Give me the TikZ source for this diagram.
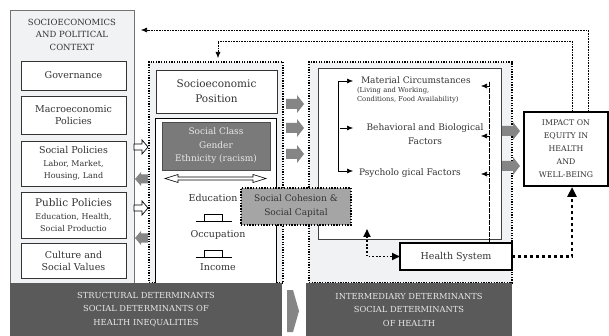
\documentclass[tikz,border=0pt]{standalone}
\usepackage{fontspec}
\setmainfont{DejaVu Serif}
\usetikzlibrary{arrows.meta,calc}
\definecolor{bgl}{HTML}{F1F2F4}
\definecolor{bandc}{HTML}{5A5A5A}
\definecolor{midgray}{HTML}{7A7A7A}
\definecolor{cohgray}{HTML}{A5A5A5}
\definecolor{arrgray}{HTML}{858585}
\definecolor{txt}{HTML}{333333}
\definecolor{lighttxt}{HTML}{E8E8E8}
\newcommand{\fs}[2]{\fontsize{#1}{#2}\selectfont}
\begin{document}
\begin{tikzpicture}[x=1pt,y=-1pt,
  every node/.style={inner sep=0pt, outer sep=0pt, text=txt, align=center, font=\fs{9.5}{12}},
  wbox/.style={draw=black!80, line width=0.6pt, fill=white},
  ctxbox/.style={draw=black!55, line width=0.7pt, fill=bgl},
  dotbox/.style={draw=black, line width=1.3pt, dash pattern=on 1.3pt off 1.3pt, fill=bgl},
  bandbox/.style={fill=bandc, text=lighttxt, font=\fs{8.3}{13.5}},
  thinfeed/.style={draw=black, line width=0.6pt, dash pattern=on 0.8pt off 0.8pt, -{Latex[length=6pt,width=5pt]}},
  smallarr/.style={-{Latex[length=6pt,width=5pt]}, line width=0.6pt},
  blockarrow/.pic={\fill[arrgray] (0,-5) -- (11,-5) -- (11,-9) -- (18,0) -- (11,9) -- (11,5) -- (0,5) -- cycle;},
  smallblock/.pic={\fill[arrgray] (0,-4.5) -- (7,-4.5) -- (7,-7) -- (13,0) -- (7,7) -- (7,4.5) -- (0,4.5) -- cycle;},
  hollowarrow/.pic={\draw[fill=white, line width=0.7pt, line join=miter] (0,-3) -- (8,-3) -- (8,-7) -- (14,0) -- (8,7) -- (8,3) -- (0,3) -- cycle;},
  stepmark/.pic={\draw[line width=0.6pt] (-18,0) -- (18,0); \draw[line width=0.6pt] (-9,0) -- (-9,-7) -- (9,-7) -- (9,0);}
]
\useasboundingbox[fill=white] (0,0) rectangle (609,336);

% ---------- left context column ----------
\node[ctxbox, minimum width=124, minimum height=273] (ctx) at (72,146.5) {};
\node[font=\fs{8.5}{12.5}] (ctxtitle) at (72,34.5) {SOCIOECONOMICS\\AND POLITICAL\\CONTEXT};
\node[wbox, minimum width=105, minimum height=29] (gov) at (73.5,75.5) {Governance};
\node[wbox, minimum width=105, minimum height=38] (macro) at (73.5,115) {Macroeconomic\\Policies};
\node[wbox, minimum width=105, minimum height=45] (socpol) at (73.5,163.5) {Social Policies\\[1pt]\fs{8}{11}Labor, Market,\\\fs{8}{11}Housing, Land};
\node[wbox, minimum width=105, minimum height=46] (pubpol) at (73.5,215) {\fs{10.5}{12}Public Policies\\[1pt]\fs{8}{11}Education, Health,\\\fs{8}{11}Social Productio};
\node[wbox, minimum width=105, minimum height=35] (culture) at (73.5,260.5) {Culture and\\Social Values};

% ---------- structural box ----------
\node[dotbox, minimum width=134, minimum height=221] (struct) at (216,172.5) {};
\node[wbox, minimum width=121, minimum height=43, font=\fs{10.5}{15}] (sep) at (216.5,91.5) {Socioeconomic\\Position};
\node[wbox, draw=black, minimum width=121, minimum height=165] (sepin) at (215.5,200.5) {};
\node[fill=midgray, draw=black!70, line width=0.6pt, minimum width=108, minimum height=48, text=lighttxt, font=\fs{9}{13.5}] (class) at (216,146) {Social Class\\Gender\\Ethnicity (racism)};
\draw[fill=white, line width=0.6pt] (165,178.5) -- (178,174.5) -- (178,177) -- (253,177) -- (253,174.5) -- (266,178.5) -- (253,182.5) -- (253,180) -- (178,180) -- (178,182.5) -- cycle;
\node (edu) at (213,198) {Education};
\pic at (213.5,221.5) {stepmark};
\node (occ) at (218,235) {Occupation};
\pic at (213.5,257.5) {stepmark};
\node (inc) at (218,267) {Income};

% ---------- intermediary box ----------
\node[dotbox, minimum width=203, minimum height=221] (inter) at (410.5,172.5) {};
\node[wbox, draw=black!75, minimum width=183, minimum height=171] (interin) at (409.5,153.5) {};
\node[anchor=west, font=\fs{9}{11}] (mat) at (361,80) {Material Circumstances};
\node[anchor=north west, align=left, font=\fs{6.8}{9}] (matsub) at (357,87.5) {(Living and Working,\\\fs{6.8}{9}Conditions, Food Availability)};
\node[font=\fs{9}{14}] (beh) at (425,134) {Behavioral and Biological\\Factors};
\node[anchor=west, font=\fs{9}{11}] (psy) at (359,173) {Psycholo gical Factors};
\draw[line width=0.6pt] (338,81) -- (338,171);
\draw[smallarr] (338,81) -- (353,81);
\draw[smallarr] (340,128) -- (353,128);
\draw[smallarr] (338,171) -- (353,171);

\node[wbox, draw=black, line width=1.3pt, minimum width=112, minimum height=27] (hs) at (456,256.5) {Health System};
\coordinate (hstop) at (489,243);
\draw[line width=0.5pt, dash pattern=on 0.6pt off 0.6pt] (hstop) -- (489,81);
\draw[smallarr] (489,86) -- (481,86);
\draw[smallarr] (489,136) -- (481,136);
\draw[smallarr] (489,174) -- (481,174);

% ---------- bands ----------
\node[bandbox, minimum width=272, minimum height=53] (sband) at (146,309.5) {STRUCTURAL DETERMINANTS\\SOCIAL DETERMINANTS OF\\HEALTH INEQUALITIES};
\node[bandbox, minimum width=206, minimum height=53] (iband) at (409,309.5) {INTERMEDIARY DETERMINANTS\\SOCIAL DETERMINANTS\\OF HEALTH};
\fill[arrgray] (287,290) -- (293,290) -- (299,311) -- (293,332) -- (287,332) -- cycle;

% ---------- social cohesion ----------
\node[fill=cohgray, draw=black, line width=1.4pt, dash pattern=on 1.4pt off 1.4pt, minimum width=110, minimum height=37, font=\fs{9}{14}] (coh) at (296,206.5) {Social Cohesion \&\\Social Capital};

% ---------- impact ----------
\node[wbox, draw=black, line width=1.4pt, minimum width=84, minimum height=74, font=\fs{7.8}{13}] (impact) at (566,149) {IMPACT ON\\EQUITY IN\\HEALTH\\AND\\WELL-BEING};

% ---------- block arrows ----------
\pic at (286,104) {blockarrow};
\pic at (286,128) {blockarrow};
\pic at (286,154) {blockarrow};
\pic at (502,131) {blockarrow};
\pic at (502,166) {blockarrow};
\pic at (134,147) {hollowarrow};
\pic at (134,208) {hollowarrow};
\pic[xscale=-1] at (148,179) {smallblock};
\pic[xscale=-1] at (148,238) {smallblock};

% ---------- feedback connectors ----------
\coordinate (fbA) at (588,112);
\coordinate (fbB) at (572,112);
\coordinate (ctxin) at (141,30);
\coordinate (structin) at (218,58);
\draw[thinfeed] (fbA) |- (ctxin);
\draw[thinfeed] (fbB) -- (572,41) -| (structin);

% ---------- thick dotted connectors ----------
\coordinate (cohup) at (367,229);
\coordinate (impin) at (572,187);
\draw[line width=1.8pt, dash pattern=on 1.8pt off 1.8pt, {Triangle[length=8pt,width=7pt]}-{Triangle[length=8pt,width=7pt]}] (cohup) |- (hs.west);
\draw[line width=2.6pt, dash pattern=on 3pt off 3pt, -{Triangle[length=10pt,width=9pt]}] (hs.east) -| (impin);
\end{tikzpicture}
\end{document}
